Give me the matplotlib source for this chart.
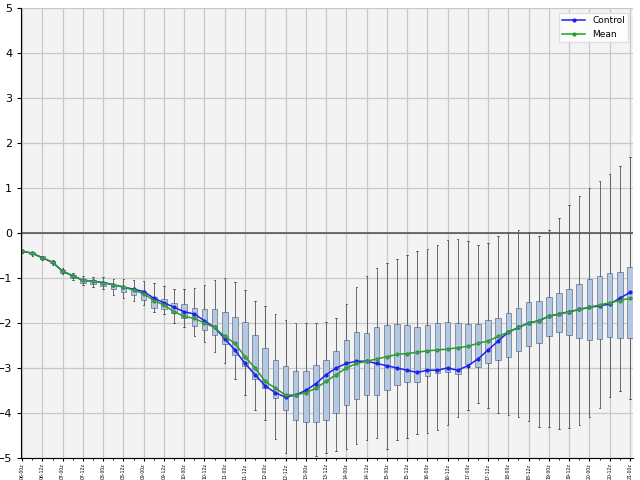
import matplotlib.pyplot as plt

days = list(range(6, 21))
tick_labels = []
for d in days:
    tick_labels += [f"{d:02d}-00z", f"{d:02d}-12z"]
tick_labels.append("21-00z")

control = [-0.4, -0.45, -0.55, -0.65, -0.85, -0.95, -1.05, -1.07, -1.1, -1.15,
           -1.2, -1.25, -1.3, -1.45, -1.55, -1.65, -1.75, -1.8, -1.95, -2.1,
           -2.35, -2.6, -2.9, -3.15, -3.4, -3.55, -3.65, -3.6, -3.5, -3.35,
           -3.15, -3.0, -2.9, -2.85, -2.85, -2.9, -2.95, -3.0, -3.05, -3.1,
           -3.05, -3.05, -3.0, -3.05, -2.95, -2.8, -2.6, -2.4, -2.2, -2.1,
           -2.0, -1.95, -1.85, -1.8, -1.75, -1.7, -1.65, -1.62, -1.58, -1.45, -1.32]
mean = [-0.4, -0.45, -0.55, -0.65, -0.85, -0.95, -1.05, -1.07, -1.1, -1.15,
        -1.2, -1.27, -1.35, -1.5, -1.6, -1.75, -1.85, -1.9, -2.0, -2.1,
        -2.3, -2.45, -2.75, -3.0, -3.3, -3.45, -3.6, -3.6, -3.55, -3.45,
        -3.3, -3.15, -3.0, -2.9, -2.85, -2.8, -2.75, -2.7, -2.68, -2.65,
        -2.62, -2.6, -2.58, -2.55, -2.52, -2.45, -2.4, -2.3, -2.2, -2.1,
        -2.0, -1.95, -1.85, -1.8, -1.75, -1.7, -1.65, -1.6, -1.55, -1.5, -1.45]
q3 = [-0.4, -0.43, -0.52, -0.62, -0.82, -0.93, -1.02, -1.05, -1.08, -1.15,
      -1.2, -1.25, -1.32, -1.42, -1.47, -1.55, -1.58, -1.67, -1.68, -1.69,
      -1.76, -1.87, -1.98, -2.27, -2.56, -2.83, -2.96, -3.07, -3.07, -2.93,
      -2.83, -2.62, -2.38, -2.2, -2.22, -2.1, -2.04, -2.02, -2.04, -2.1,
      -2.04, -1.99, -1.98, -2.0, -2.02, -2.02, -1.93, -1.89, -1.78, -1.67,
      -1.53, -1.51, -1.42, -1.33, -1.24, -1.13, -1.02, -0.96, -0.89, -0.87, -0.76]
q1 = [-0.42, -0.47, -0.57, -0.67, -0.88, -0.99, -1.1, -1.13, -1.18, -1.25,
      -1.32, -1.38, -1.48, -1.67, -1.68, -1.77, -1.88, -2.07, -2.16, -2.27,
      -2.47, -2.71, -2.96, -3.24, -3.44, -3.67, -3.93, -4.16, -4.2, -4.2,
      -4.16, -4.0, -3.82, -3.69, -3.6, -3.6, -3.49, -3.38, -3.31, -3.31,
      -3.18, -3.12, -3.08, -3.14, -2.91, -2.97, -2.89, -2.83, -2.76, -2.62,
      -2.51, -2.44, -2.29, -2.2, -2.27, -2.33, -2.38, -2.36, -2.31, -2.33, -2.33]
whis_hi = [-0.38, -0.42, -0.5, -0.6, -0.78, -0.88, -0.95, -0.97, -0.98, -1.02,
           -1.03, -1.05, -1.07, -1.11, -1.18, -1.25, -1.25, -1.23, -1.16, -1.05,
           -1.0, -1.09, -1.27, -1.51, -1.63, -1.8, -1.93, -2.0, -2.0, -2.0,
           -1.98, -1.89, -1.58, -1.2, -0.96, -0.78, -0.66, -0.58, -0.49, -0.4,
           -0.36, -0.27, -0.16, -0.13, -0.18, -0.27, -0.22, -0.07, 0.02, 0.07,
           0.02, -0.07, 0.07, 0.33, 0.62, 0.82, 1.0, 1.16, 1.31, 1.49, 1.69]
whis_lo = [-0.44, -0.5, -0.6, -0.7, -0.92, -1.05, -1.15, -1.2, -1.25, -1.38,
           -1.45, -1.5, -1.6, -1.75, -1.8, -2.0, -2.08, -2.29, -2.42, -2.64,
           -2.9, -3.24, -3.6, -3.93, -4.16, -4.58, -4.89, -5.0, -5.0, -4.95,
           -4.9, -4.85, -4.8, -4.7, -4.6, -4.55, -4.8, -4.6, -4.56, -4.47,
           -4.44, -4.38, -4.27, -4.1, -3.93, -3.78, -3.89, -4.0, -4.04, -4.1,
           -4.18, -4.31, -4.31, -4.36, -4.33, -4.27, -4.1, -3.89, -3.64, -3.51, -3.69]

x = list(range(len(control)))

fig = plt.figure(figsize=(6.4, 4.8), dpi=100)
ax = fig.add_axes([0.033, 0.046, 0.956, 0.937])
ax.set_facecolor("#f3f3f3")

stats = [dict(med=m, q1=a, q3=b, whislo=lo, whishi=hi, fliers=[])
         for m, a, b, lo, hi in zip(mean, q1, q3, whis_lo, whis_hi)]
ax.bxp(stats, positions=x, widths=0.55, patch_artist=True, manage_ticks=False,
       boxprops=dict(facecolor="#b4c8e2", edgecolor="#7f8fa6", linewidth=0.7),
       medianprops=dict(color="#6f7f96", linewidth=0.7),
       whiskerprops=dict(color="#555555", linewidth=0.6),
       capprops=dict(color="#555555", linewidth=0.6), capwidths=0.15)

ax.plot(x, control, color="#2020ee", marker="o", markersize=2, linewidth=1.1, label="Control")
ax.plot(x, mean, color="#22a022", marker="o", markersize=2, linewidth=1.1, label="Mean")

ax.axhline(0, color="#555555", linewidth=1.2)
ax.set_ylim(-5, 5)
ax.set_yticks(range(-5, 6))
ax.set_xlim(-0.1, 60.3)
ax.set_xticks(range(0, 61, 2))
ax.set_xticklabels(tick_labels, rotation=90, fontsize=3.3)
ax.set_xticks(range(0, 61), minor=True)
ax.tick_params(axis="y", labelsize=8, length=3)
ax.tick_params(axis="x", length=2.5, pad=1.5)
ax.tick_params(axis="x", which="minor", length=1.5)
ax.grid(True, color="#c8c8c8", linewidth=0.9)
ax.set_axisbelow(True)
for s in ["top", "right"]:
    ax.spines[s].set_visible(False)

ax.legend(loc="upper right", fontsize=6.5, frameon=True, framealpha=0.9,
          edgecolor="#dddddd", handlelength=2.5)
fig.savefig("out.png", dpi=100)
